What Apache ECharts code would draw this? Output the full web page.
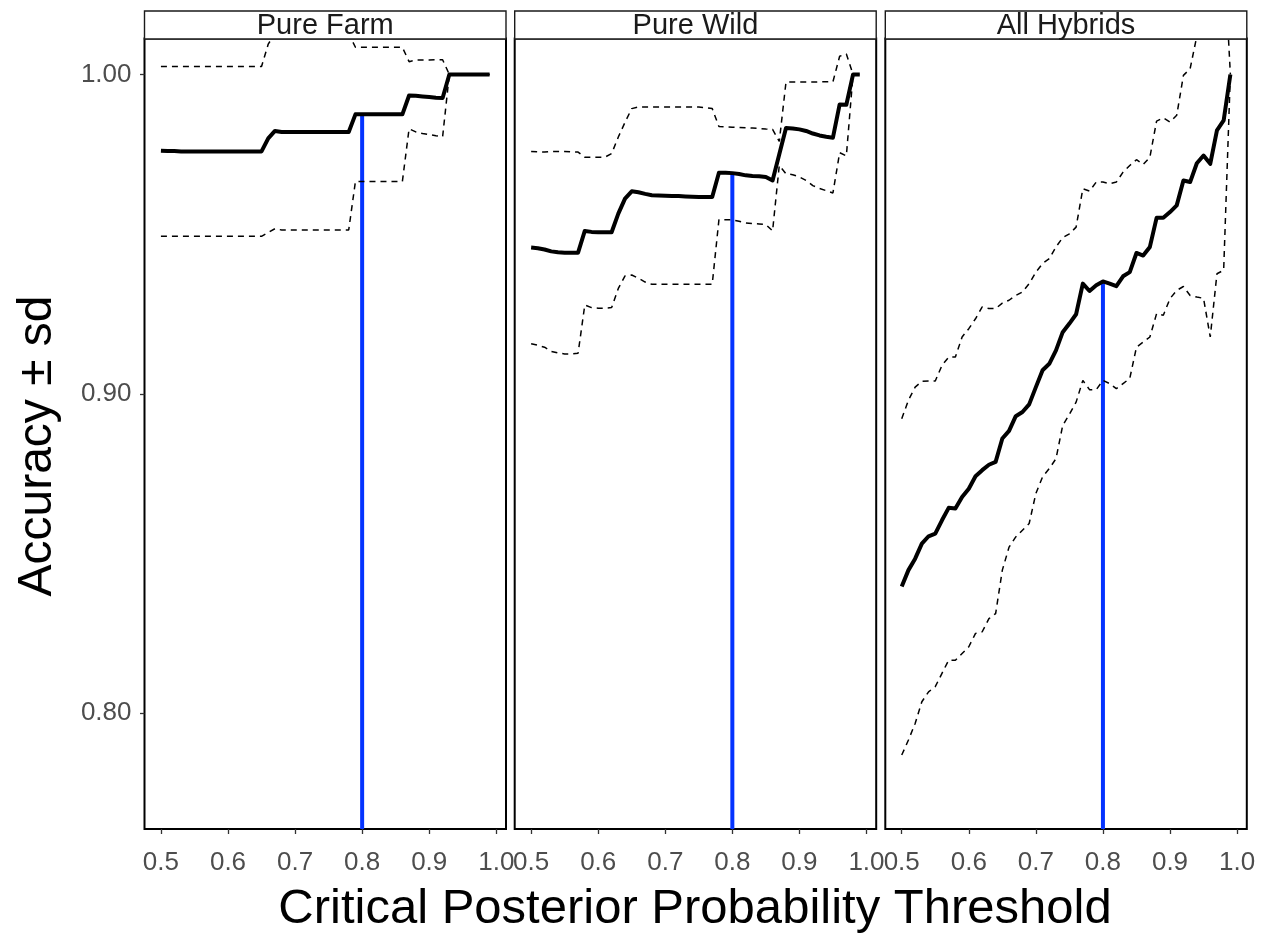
<!DOCTYPE html>
<html>
<head>
<meta charset="utf-8">
<script src="https://cdn.jsdelivr.net/npm/echarts@6/dist/echarts.min.js"></script>
<style>
html,body{margin:0;padding:0;background:#fff;}
#chart{width:1265px;height:939px;}
</style>
</head>
<body>
<div id="chart"></div>
<script>
// ---------------- DATA ----------------
const panelNames = ['Pure Farm', 'Pure Wild', 'All Hybrids'];

const thresholds = [0.50,0.51,0.52,0.53,0.54,0.55,0.56,0.57,0.58,0.59,
                    0.60,0.61,0.62,0.63,0.64,0.65,0.66,0.67,0.68,0.69,
                    0.70,0.71,0.72,0.73,0.74,0.75,0.76,0.77,0.78,0.79,
                    0.80,0.81,0.82,0.83,0.84,0.85,0.86,0.87,0.88,0.89,
                    0.90,0.91,0.92,0.93,0.94,0.95,0.96,0.97,0.98,0.99];

const farmMean  = [0.9761,0.9760,0.9760,0.9759,0.9759,0.9759,0.9759,0.9759,0.9759,0.9759,
                   0.9759,0.9759,0.9759,0.9759,0.9759,0.9759,0.9800,0.9823,0.9820,0.9820,
                   0.9820,0.9820,0.9820,0.9820,0.9820,0.9820,0.9820,0.9820,0.9820,0.9875,
                   0.9875,0.9875,0.9875,0.9875,0.9875,0.9875,0.9875,0.9934,0.9933,0.9931,
                   0.9929,0.9927,0.9926,1.0000,1.0000,1.0000,1.0000,1.0000,1.0000,1.0000];
const farmUpper = [1.0025,1.0025,1.0025,1.0025,1.0025,1.0025,1.0025,1.0025,1.0025,1.0025,
                   1.0025,1.0025,1.0025,1.0025,1.0025,1.0025,1.0095,1.0128,1.0128,1.0128,
                   1.0128,1.0128,1.0128,1.0128,1.0128,1.0128,1.0128,1.0128,1.0128,1.0085,
                   1.0085,1.0085,1.0085,1.0085,1.0085,1.0085,1.0085,1.0040,1.0045,1.0045,
                   1.0045,1.0046,1.0046,1.0000,1.0000,1.0000,1.0000,1.0000,1.0000,1.0000];
const farmLower = [0.9493,0.9493,0.9493,0.9493,0.9493,0.9493,0.9493,0.9493,0.9493,0.9493,
                   0.9493,0.9493,0.9493,0.9493,0.9493,0.9493,0.9505,0.9517,0.9513,0.9513,
                   0.9513,0.9513,0.9513,0.9513,0.9513,0.9513,0.9513,0.9513,0.9513,0.9665,
                   0.9665,0.9665,0.9665,0.9665,0.9665,0.9665,0.9665,0.9830,0.9820,0.9815,
                   0.9812,0.9808,0.9805,1.0000,1.0000,1.0000,1.0000,1.0000,1.0000,1.0000];

const wildMean  = [0.9458,0.9456,0.9452,0.9446,0.9443,0.9442,0.9442,0.9442,0.9510,0.9507,
                   0.9506,0.9506,0.9506,0.9564,0.9611,0.9634,0.9631,0.9626,0.9622,0.9621,
                   0.9620,0.9619,0.9619,0.9618,0.9617,0.9616,0.9616,0.9616,0.9692,0.9692,
                   0.9691,0.9688,0.9684,0.9682,0.9681,0.9679,0.9668,0.9750,0.9832,0.9831,
                   0.9828,0.9823,0.9815,0.9809,0.9805,0.9802,0.9906,0.9905,1.0000,1.0000];
const wildUpper = [0.9759,0.9758,0.9757,0.9759,0.9759,0.9759,0.9758,0.9757,0.9741,0.9741,
                   0.9741,0.9741,0.9752,0.9804,0.9850,0.9893,0.9898,0.9898,0.9898,0.9898,
                   0.9898,0.9898,0.9898,0.9898,0.9898,0.9898,0.9896,0.9893,0.9837,0.9836,
                   0.9835,0.9834,0.9833,0.9832,0.9831,0.9829,0.9828,0.9790,0.9976,0.9976,
                   0.9976,0.9976,0.9976,0.9977,0.9977,0.9977,1.0057,1.0064,1.0000,1.0000];
const wildLower = [0.9157,0.9152,0.9146,0.9133,0.9128,0.9125,0.9125,0.9127,0.9278,0.9270,
                   0.9268,0.9268,0.9270,0.9330,0.9369,0.9372,0.9362,0.9350,0.9343,0.9343,
                   0.9343,0.9343,0.9343,0.9343,0.9343,0.9343,0.9343,0.9343,0.9545,0.9545,
                   0.9545,0.9540,0.9535,0.9533,0.9532,0.9530,0.9510,0.9715,0.9689,0.9686,
                   0.9679,0.9668,0.9652,0.9643,0.9636,0.9629,0.9755,0.9745,1.0000,1.0000];

const hybMean   = [0.8397,0.8448,0.8484,0.8531,0.8554,0.8562,0.8604,0.8643,0.8641,0.8677,
                   0.8703,0.8742,0.8761,0.8778,0.8787,0.8860,0.8884,0.8930,0.8943,0.8967,
                   0.9021,0.9074,0.9094,0.9136,0.9193,0.9220,0.9249,0.9345,0.9322,0.9340,
                   0.9352,0.9345,0.9337,0.9368,0.9381,0.9441,0.9433,0.9460,0.9551,0.9551,
                   0.9569,0.9590,0.9668,0.9663,0.9722,0.9746,0.9720,0.9825,0.9856,1.0000];
const hybUpper  = [0.8922,0.8980,0.9021,0.9039,0.9040,0.9040,0.9089,0.9115,0.9115,0.9178,
                   0.9204,0.9235,0.9272,0.9267,0.9267,0.9284,0.9293,0.9308,0.9319,0.9345,
                   0.9381,0.9408,0.9423,0.9460,0.9489,0.9501,0.9522,0.9642,0.9635,0.9663,
                   0.9663,0.9658,0.9663,0.9694,0.9715,0.9733,0.9718,0.9741,0.9854,0.9864,
                   0.9851,0.9872,0.9997,1.0018,1.0120,1.0190,1.0260,1.0300,1.0400,1.0000];
const hybLower  = [0.7869,0.7916,0.7968,0.8036,0.8067,0.8083,0.8125,0.8166,0.8166,0.8187,
                   0.8208,0.8250,0.8255,0.8296,0.8312,0.8448,0.8520,0.8552,0.8573,0.8594,
                   0.8688,0.8740,0.8766,0.8797,0.8901,0.8936,0.8974,0.9042,0.9013,0.9013,
                   0.9042,0.9032,0.9016,0.9032,0.9048,0.9146,0.9162,0.9178,0.9251,0.9246,
                   0.9298,0.9324,0.9336,0.9308,0.9303,0.9299,0.9178,0.9376,0.9387,1.0000];

const cutoff = 0.80;
const xTickValues = [0.5, 0.6, 0.7, 0.8, 0.9, 1.0];
const yTickValues = [0.80, 0.90, 1.00];
const xTitle = 'Critical Posterior Probability Threshold';
const yTitle = 'Accuracy \u00B1 sd';

// ---------------- LAYOUT / STYLE ----------------
const FONT = '"Liberation Sans", Arial, Helvetica, sans-serif';
const X_MIN = 0.4755, X_MAX = 1.0145;
const Y_MIN = 0.76375, Y_MAX = 1.01125;
const GRID_LEFTS = [144.5, 514.7, 885.3];
const GRID_W = 361.5;
const GRID_TOP = 38.5;
const GRID_H = 790.5;
const STRIP_TOP = 11;

const panelSeries = [
  {mean: farmMean, upper: farmUpper, lower: farmLower},
  {mean: wildMean, upper: wildUpper, lower: wildLower},
  {mean: hybMean,  upper: hybUpper,  lower: hybLower}
];

function pairs(xs, ys) { return xs.map((x, i) => [x, ys[i]]); }

const grids = [], xAxes = [], yAxes = [], series = [], graphics = [];
const cutIdx = thresholds.indexOf(cutoff);

panelSeries.forEach((p, k) => {
  grids.push({
    left: GRID_LEFTS[k], top: GRID_TOP, width: GRID_W, height: GRID_H,
    show: true, borderColor: '#000', borderWidth: 2, backgroundColor: '#fff',
    containLabel: false, outerBoundsMode: 'none'
  });
  xAxes.push({
    type: 'value', gridIndex: k, min: X_MIN, max: X_MAX,
    axisLine: {show: false}, splitLine: {show: false},
    axisTick: {show: true, length: 5, customValues: xTickValues,
               lineStyle: {color: '#333', width: 1.3}},
    axisLabel: {show: true, customValues: xTickValues, hideOverlap: false,
                formatter: v => v.toFixed(1), color: '#4d4d4d',
                fontSize: 26, fontFamily: FONT, margin: 21}
  });
  yAxes.push({
    type: 'value', gridIndex: k, min: Y_MIN, max: Y_MAX,
    axisLine: {show: false}, splitLine: {show: false},
    axisTick: {show: k === 0, length: 4.5, customValues: yTickValues,
               lineStyle: {color: '#333', width: 1.3}},
    axisLabel: {show: k === 0, customValues: yTickValues,
                formatter: v => v.toFixed(2), color: '#4d4d4d',
                fontSize: 26, fontFamily: FONT, margin: 13}
  });
  // blue cutoff segment from the panel bottom to the accuracy at the cutoff
  series.push({
    type: 'line', xAxisIndex: k, yAxisIndex: k, showSymbol: false, silent: true,
    animation: false, clip: true, z: 2,
    data: [[cutoff, Y_MIN], [cutoff, p.mean[cutIdx]]],
    lineStyle: {color: '#0433ff', width: 4, cap: 'butt'}
  });
  ['upper', 'lower'].forEach(key => {
    series.push({
      type: 'line', xAxisIndex: k, yAxisIndex: k, showSymbol: false, silent: true,
      animation: false, clip: true, z: 3,
      data: pairs(thresholds, p[key]),
      lineStyle: {color: '#000', width: 1.5, type: [6, 5]}
    });
  });
  series.push({
    type: 'line', xAxisIndex: k, yAxisIndex: k, showSymbol: false, silent: true,
    animation: false, clip: true, z: 4,
    data: pairs(thresholds, p.mean),
    lineStyle: {color: '#000', width: 4, join: 'round'}
  });

  // facet strip
  graphics.push({
    type: 'rect', silent: true, z: 10,
    shape: {x: GRID_LEFTS[k], y: STRIP_TOP, width: GRID_W, height: GRID_TOP + 0.5 - STRIP_TOP},
    style: {fill: '#fff', stroke: '#1a1a1a', lineWidth: 1.4}
  });
  graphics.push({
    type: 'text', silent: true, z: 11,
    x: GRID_LEFTS[k] + GRID_W / 2, y: 25.5,
    style: {text: panelNames[k], font: '29px ' + FONT, fill: '#1a1a1a',
            align: 'center', verticalAlign: 'middle'}
  });
});

graphics.push({
  type: 'text', silent: true, z: 11, x: 695, y: 909,
  style: {text: xTitle, font: '49px ' + FONT, fill: '#000', align: 'center', verticalAlign: 'middle'}
});
graphics.push({
  type: 'text', silent: true, z: 11, x: 38, y: 446, rotation: Math.PI / 2,
  style: {text: yTitle, font: '48px ' + FONT, fill: '#000', align: 'center', verticalAlign: 'middle'}
});

const chart = echarts.init(document.getElementById('chart'), null, {renderer: 'canvas'});
chart.setOption({
  animation: false,
  backgroundColor: '#fff',
  grid: grids,
  xAxis: xAxes,
  yAxis: yAxes,
  series: series,
  graphic: graphics
});
</script>
</body>
</html>
